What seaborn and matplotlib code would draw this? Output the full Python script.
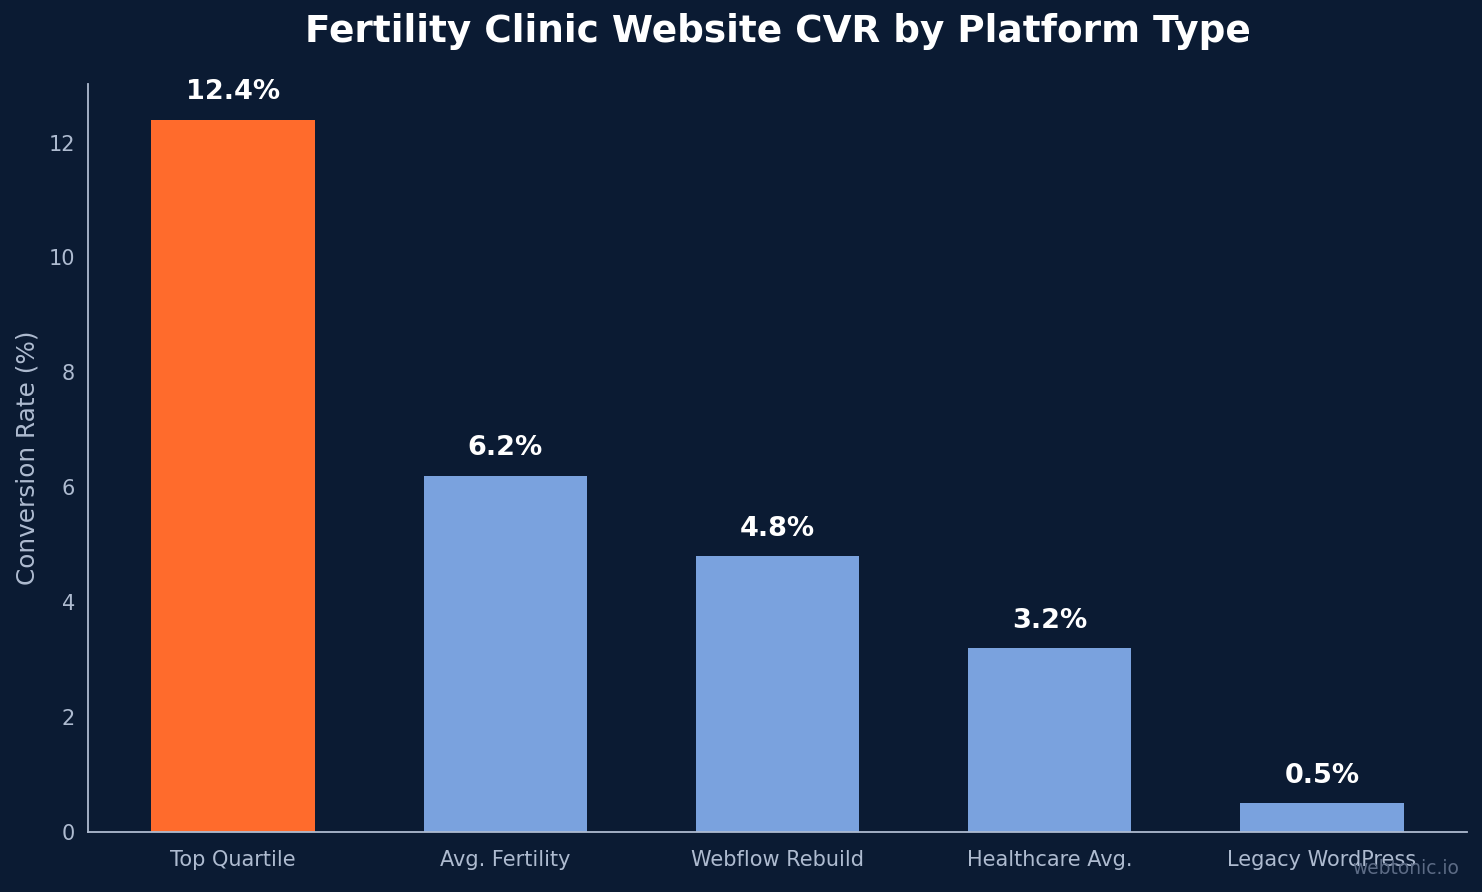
import matplotlib
matplotlib.use("Agg")
import matplotlib.pyplot as plt
import seaborn as sns
import pandas as pd

# chart data
platforms = ['Top Quartile', 'Avg. Fertility', 'Webflow Rebuild', 'Healthcare Avg.', 'Legacy WordPress']
cvr = [12.4, 6.2, 4.8, 3.2, 0.5]
bar_colors = ['#FF6B2C', '#7AA2DE', '#7AA2DE', '#7AA2DE', '#7AA2DE']

bg = '#0B1B33'
axis_col = '#AEBBD0'

sns.set_style("white")
plt.rcParams['font.family'] = ['DejaVu Sans']

df = pd.DataFrame({'Platform': platforms, 'CVR': cvr})

fig = plt.figure(figsize=(14.82, 8.92), dpi=100, facecolor=bg)
ax = fig.add_axes([88 / 1482, 1 - 832 / 892, (1467 - 88) / 1482, (832 - 84) / 892])
ax.set_facecolor(bg)

sns.barplot(data=df, x='Platform', y='CVR', hue='Platform', palette=bar_colors,
            width=0.6, saturation=1, legend=False, linewidth=0, ax=ax)

# value labels
for i, v in enumerate(cvr):
    ax.text(i, v + 0.25, f'{v}%', ha='center', va='bottom', color='white',
            fontsize=19.5, fontweight='bold')

ax.set_xlim(-0.533, 4.533)
ax.set_ylim(0, max(cvr) * 1.05)
ax.set_yticks([0, 2, 4, 6, 8, 10, 12])

for side in ['top', 'right']:
    ax.spines[side].set_visible(False)
for side in ['left', 'bottom']:
    ax.spines[side].set_color(axis_col)
    ax.spines[side].set_linewidth(1.3)

ax.tick_params(colors=axis_col, labelsize=15, length=6, width=1.3)
ax.tick_params(axis='x', pad=7)
ax.set_xlabel('')
ax.set_ylabel('Conversion Rate (%)', color=axis_col, fontsize=17.8, labelpad=6)

ax.set_title('Fertility Clinic Website CVR by Platform Type', color='white',
             fontsize=26.9, fontweight='bold', pad=30)

fig.text(1459 / 1482, 1 - 868 / 892, 'webtonic.io', ha='right', va='center',
         color='#5C6B85', fontsize=13.4)

fig.savefig('out.png', dpi=100, facecolor=bg)
